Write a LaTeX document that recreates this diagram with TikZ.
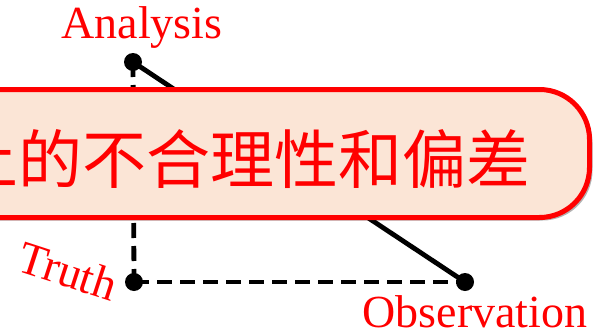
\documentclass[tikz,border=0pt]{standalone}
\usepackage{fontspec}
\setmainfont{Liberation Serif}
\newfontfamily\cjk{Noto Sans CJK SC}
\usetikzlibrary{shadows}
\definecolor{boxfill}{HTML}{FBE5D6}
\definecolor{lblred}{HTML}{FF0000}
\begin{document}
\begin{tikzpicture}[x=1pt,y=-1pt,
  dot/.style={circle,fill=black,inner sep=0pt,minimum size=18pt},
  solidline/.style={line width=4.8pt},
  dashline/.style={line width=4.8pt,dash pattern=on 15pt off 8pt},
  lbl/.style={text=lblred,inner sep=0pt,font=\fontsize{46}{50}\selectfont},
  callout/.style={draw=lblred,fill=boxfill,line width=5pt,rounded corners=50pt,
    drop shadow={shadow xshift=3pt,shadow yshift=-3pt,fill=black,opacity=.3}},
  callouttext/.style={text=lblred,inner sep=0pt,font=\cjk\fontsize{64}{70}\selectfont}]
\useasboundingbox (0,0) rectangle (605,332);
\fill[white] (0,0) rectangle (605,332);
\node[dot] (A) at (133,62) {};
\node[dot] (T) at (134,282) {};
\node[dot] (O) at (465,282) {};
\draw[solidline] (A.center) -- (O.center);
\draw[dashline] (A.center) -- (T.center);
\draw[dashline] (T.center) -- (O.center);
\node[lbl,anchor=base] (la) at (142,38) {Analysis};
\node[lbl,anchor=base] (lo) at (475,327) {Observation};
\node[lbl,rotate=-18] (lt) at (68,271) {Truth};
\path[callout] (-120,89.5) rectangle (589.5,217.5);
\node[callouttext,anchor=base east] (ct) at (531,183) {上的不合理性和偏差};
\end{tikzpicture}
\end{document}
